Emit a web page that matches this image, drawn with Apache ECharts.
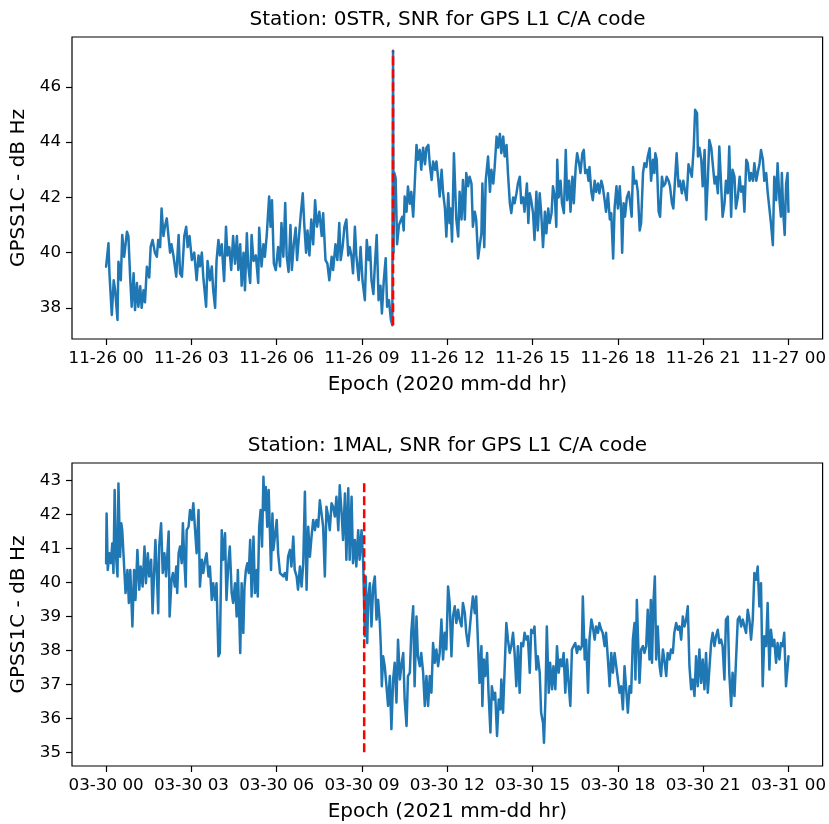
<!DOCTYPE html>
<html><head><meta charset="utf-8">
<script src="https://cdn.jsdelivr.net/npm/echarts@6/dist/echarts.min.js"></script>
<style>html,body{margin:0;padding:0;background:#fff}#c{width:829px;height:824px}</style>
</head><body><div id="c"></div>
<script>
// ---------------- DATA ----------------
// time in minutes since 00:00 of the day, value in dB Hz
const topTitle = 'Station: 0STR, SNR for GPS L1 C/A code';
const bottomTitle = 'Station: 1MAL, SNR for GPS L1 C/A code';
const yAxisName = 'GPSS1C - dB Hz';
const topXName = 'Epoch (2020 mm-dd hr)';
const bottomXName = 'Epoch (2021 mm-dd hr)';
const hourTicks = [0, 180, 360, 540, 720, 900, 1080, 1260, 1440];
const topTickLabels = ['11-26 00','11-26 03','11-26 06','11-26 09','11-26 12','11-26 15','11-26 18','11-26 21','11-27 00'];
const bottomTickLabels = ['03-30 00','03-30 03','03-30 06','03-30 09','03-30 12','03-30 15','03-30 18','03-30 21','03-31 00'];
const topYTicks = [38, 40, 42, 44, 46];
const bottomYTicks = [35, 36, 37, 38, 39, 40, 41, 42, 43];
const topChange = [605.5, 37.37, 47.31];     // minute, low, high
const bottomChange = [544.6, 35.0, 43.0];

const topSnr = [
[0,39.49],[5,40.34],[7,39.26],[12,37.74],[16,39.0],[19,38.64],[24,37.56],[26,39.67],[31,39.0],[34,40.64],
[38,39.85],[44,40.76],[47,40.6],[51,39.0],[54,38.04],[58,39.25],[61,37.92],[65,38.9],[68,38.04],[72,38.78],
[75,38.0],[79,38.64],[82,38.2],[86,39.49],[91,39.1],[94,40.21],[98,40.46],[103,40.0],[107,39.85],[110,40.46],
[114,40.2],[117,41.6],[121,40.6],[124,40.94],[128,41.24],[131,40.7],[135,40.0],[138,40.3],[142,39.9],[148,39.13],
[153,40.64],[156,39.25],[160,39.13],[165,40.6],[169,40.94],[172,40.2],[176,40.6],[181,39.73],[186,40.0],[191,39.0],
[195,39.9],[198,39.5],[202,40.0],[205,39.13],[211,38.04],[214,39.7],[219,39.0],[223,39.5],[226,38.64],[230,38.0],
[233,39.7],[237,40.46],[240,39.9],[244,40.3],[249,38.97],[253,40.94],[256,39.9],[260,40.2],[264,39.37],[268,40.6],
[272,39.6],[276,40.6],[279,39.37],[283,40.3],[286,38.8],[290,40.0],[293,38.64],[297,40.7],[300,39.5],[304,38.9],
[307,40.64],[311,39.7],[316,39.9],[321,38.9],[323,40.9],[328,39.5],[332,40.3],[335,39.85],[339,40.64],[344,42.03],
[347,40.94],[350,41.9],[354,39.6],[358,39.37],[363,40.2],[367,39.5],
[370,41.07],[374,39.85],[378,41.8],[381,39.9],[385,39.3],[389,41.0],[392,39.37],[396,40.3],[400,40.9],[403,39.73],
[407,40.6],[411,41.43],[415,42.15],[418,41.07],[422,40.0],[425,40.8],[429,39.9],[433,41.2],[437,40.3],[441,41.9],
[445,40.94],[450,41.48],[455,40.6],[458,41.43],[463,39.73],[467,39.6],[471,39.0],[476,39.85],[479,39.37],[484,40.3],
[488,39.73],[492,41.07],[495,39.73],[499,40.2],[503,40.94],[507,41.2],[511,39.9],[514,40.2],[518,39.85],[521,39.25],
[525,40.94],[528,39.9],[533,39.0],[537,40.2],[541,39.0],[546,38.28],[550,40.46],[554,39.73],[557,40.2],[560,39.0],
[564,38.5],[567,39.5],[571,40.64],[575,38.28],[579,38.8],[582,37.8],[586,39.0],[590,39.8],[593,38.04],[597,38.28],
[601,37.56],[604,37.37],[605.5,47.31],[606.5,40.0],[608,42.9],[611,42.7],[614,40.3],[618,41.0],
[625,41.3],[628,40.8],[630,42.03],[634,41.48],[637,42.39],[641,41.77],[644,42.2],[648,41.3],[651,42.39],[655,43.9],
[658,43.36],[662,43.72],[665,43.0],[669,43.8],[673,43.2],[676,43.8],[680,43.9],[683,43.2],[687,42.63],[690,43.3],
[694,43.0],[697,43.3],[701,42.63],[704,42.03],[708,43.0],[711,42.2],[715,41.6],[718,40.58],[722,42.15],[725,41.07],
[727,41.6],[730,40.4],[734,43.6],[736,42.63],[739,41.2],[743,40.58],[746,42.2],[750,41.2],[753,42.63],[757,41.2],
[760,42.88],[764,42.4],[767,42.75],[771,42.5],[774,40.94],[778,41.48],[781,41.2],[785,39.79],[788,40.2],[792,40.7],
[794,42.5],[798,40.2],[801,42.6],[806,43.48],[810,42.2],[813,43.0],[817,42.5],[820,43.1],[824,44.2],[827,43.8],
[831,44.3],[834,43.6],[838,44.2],[841,43.48],[845,43.9],[848,42.88],[852,41.79],[855,41.43],[859,42.0],[862,41.79],
[866,42.15],[869,42.5],[873,42.75],[876,41.79],[880,42.0],[883,41.48],[888,42.5],[891,41.07],[894,42.15],[897,41.9],
[901,41.43],[904,40.46],[908,42.2],[911,40.8],[915,42.15],[918,41.48],[922,40.2],[926,41.48],[929,40.7],[933,41.6],
[936,41.07],[940,41.43],[943,42.4],[947,42.0],[950,40.94],[952,43.36],[955,42.0],[959,42.6],[962,41.79],[966,41.43],
[970,43.72],[973,41.9],[977,42.6],[980,41.48],[984,42.75],[987,41.79],[991,43.1],[994,43.6],[998,43.24],[1001,42.88],
[1005,43.6],[1008,43.72],[1011,42.88],[1015,43.0],[1018,42.6],[1020,43.1],[1024,42.2],[1027,41.9],[1031,42.6],[1034,42.2],
[1038,42.5],[1041,42.15],[1045,42.6],[1048,42.4],[1052,41.9],[1055,41.48],[1059,42.15],[1063,41.2],[1066,41.43],[1070,39.79],
[1073,41.6],[1077,42.4],[1080,41.6],
[1084,42.4],[1087,41.43],[1089,40.0],[1092,41.79],[1095,41.3],[1099,42.0],[1103,42.2],[1106,41.79],[1109,41.3],[1112,43.1],
[1115,42.5],[1119,42.6],[1122,42.2],[1126,40.8],[1129,41.07],[1133,42.88],[1136,43.24],[1140,43.1],[1143,43.48],[1147,43.78],
[1150,42.6],[1154,43.36],[1157,42.88],[1159,43.6],[1162,43.36],[1166,41.48],[1169,41.3],[1173,42.75],[1176,42.4],[1180,42.5],
[1183,42.75],[1187,42.6],[1190,42.4],[1194,41.79],[1197,41.6],[1201,42.75],[1204,43.6],[1208,42.4],[1211,42.6],[1215,42.15],
[1218,42.6],[1222,42.2],[1225,41.9],[1229,43.2],[1233,43.24],[1236,42.75],[1240,43.8],[1243,45.17],[1247,45.05],[1249,43.48],
[1252,43.8],[1256,43.36],[1259,42.4],[1263,43.72],[1266,41.2],[1270,42.75],[1273,44.08],[1277,43.8],[1280,43.24],[1284,42.5],
[1287,42.75],[1291,42.15],[1294,43.84],[1298,43.84],[1301,41.3],[1305,41.79],[1308,42.6],[1312,42.15],[1315,43.84],[1319,41.3],
[1322,43.0],[1326,42.75],[1329,41.6],[1333,42.0],[1337,42.75],[1340,42.2],[1344,42.4],[1347,41.48],[1351,43.36],[1354,43.24],
[1358,42.6],[1361,42.88],[1365,42.6],[1368,43.24],[1372,42.6],[1375,42.88],[1379,43.24],[1382,43.72],[1386,43.36],[1389,42.6],
[1393,42.88],[1396,42.2],[1400,42.15],[1403,41.07],[1407,40.27],[1410,42.75],[1414,41.9],[1417,43.24],[1421,41.9],[1424,41.3],
[1426,42.88],[1429,41.43],[1432,40.64],[1435,42.5],[1438,42.88],[1440,41.48]
];

const bottomSnr = [
[0,40.56],[1,42.02],[3.5,40.36],[7,40.85],[10,40.56],[13,41.14],[15.5,40.27],[18,42.71],[21,40.75],[24,40.17],
[26,42.9],[29.5,40.75],[32,41.73],[34,41.53],[38,40.46],[41,39.68],[45,40.36],[48,39.39],[51,40.36],[55.5,38.7],
[59,40.36],[62,39.48],[66,40.95],[70,39.78],[73,40.46],[77,39.87],[81,41.05],[84,39.97],[88,40.85],[91,40.17],
[95,40.66],[98,39.09],[101,40.17],[104,41.24],[107,40.27],[110,39.09],[112,41.05],[116,41.73],[119.5,40.27],[123,40.85],
[126.5,40.17],[129,40.75],[132,41.49],[134,38.99],[138,40.07],[141,40.27],[145,39.87],[148,40.46],[150,39.68],[153,40.85],
[156,41.05],[159.5,40.56],[162,41.73],[165,40.66],[168,39.87],[170,41.53],[174,41.63],[177,42.12],[181,41.83],[184,42.32],
[188,42.32],[191,40.85],[195,42.12],[198,39.87],[202,40.66],[205,40.27],[209,40.66],[212,40.85],[216,40.17],[219,40.46],
[223,39.48],[226,39.97],[230,39.48],[233,39.97],[237,37.82],[240,37.92],[244,41.53],[247,40.66],[251,41.44],[254,39.48],
[258,40.56],[261,41.05],[265,39.68],[268,39.39],[272,39.97],[275.5,38.99],[278,40.36],[281,38.99],[283,37.92],[286,39.97],
[289.5,38.51],[292,39.87],[295,40.36],[298,40.56],[301,40.27],[304,41.24],[307,39.58],[311,41.34],[314,39.68],[318,40.36],
[320,39.58],[323,41.63],[326,42.12],[329,41.05],[332,43.1],[334.5,42.12],[337,42.8],[340,41.63],[343,42.71],[346,41.34],
[348,40.36],[351,42.02],[353,40.95],[357,41.44],[360,41.83],[363,40.85],[367,40.27],
[370,40.27],[374,40.17],[377,40.27],[381,40.07],[384,40.75],[388,40.95],[391,40.46],[395,41.34],[398,40.36],[402,40.17],
[405,39.78],[409,40.46],[412.5,39.87],[416,40.56],[419.5,42.66],[423,39.78],[426.5,41.63],[430,40.75],[433.5,41.34],[437,41.83],
[440.6,41.53],[444,41.83],[447.6,41.63],[451,42.41],[454.6,42.02],[458,41.63],[461.6,40.17],[465,42.22],[468.7,41.93],[472,41.53],
[475.7,42.32],[479,42.22],[482.7,41.93],[486,42.51],[490,41.53],[493,42.85],[497,42.02],[500,41.24],[504,42.61],[507,40.66],
[511,42.76],[514,40.66],[518,42.51],[521,40.56],[525,41.24],[528,40.46],[532,41.53],[535,40.66],[539,41.53],[542.5,40.56],
[546,38.41],[548,40.17],[551,38.21],[553,39.48],[556.5,39.97],[560,38.7],[563.5,39.87],[567,40.17],[570.6,38.9],[574,39.48],
[577.6,38.8],[579.7,38.12],[581.8,36.94],[584.6,37.82],[588,37.53],[591.6,36.94],[595,36.36],[598.7,37.24],[602,35.68],[605.7,37.14],
[609,37.63],[612.7,36.46],[616,38.31],[620,37.14],[623,37.53],[627,37.92],[630,36.55],[634,35.77],[637,37.24],[641,37.34],
[644,38.51],[648,39.29],[651,36.94],[655,38.99],[658,37.82],[662,37.53],[665,37.92],[669,37.34],[672.5,36.36],[676,37.24],
[679.5,36.36],[683,37.24],[686.5,36.75],[690,38.21],[693.5,37.63],[697,38.02],[700.6,37.53],[704,37.92],[707.6,38.9],[711,37.73],
[714.6,38.51],[718,38.02],[721.6,39.87],[725,39.39],
[728.7,37.82],[732,38.99],[735.7,39.29],[739,38.8],[742.7,39.19],[746,38.9],[750,38.7],[753,39.39],[757,39.09],[760,38.51],
[764,38.12],[767,38.12],[771,39.19],[774,39.58],[778,39.09],[781,39.58],[785,38.12],[788,37.04],[792,38.12],[794,36.36],
[797,37.73],[800,37.24],[804,37.92],[807,36.75],[811,35.58],[814,36.94],[818,36.55],[821,36.75],[825,35.48],[828.5,36.55],
[832,36.26],[834,37.14],[837.6,36.16],[841,36.16],[844.6,38.8],[848,38.31],[851.7,37.92],[855,38.12],[858.7,38.51],[862,37.92],
[865.7,36.94],[869,38.12],[872.7,36.75],[876,38.21],[880,38.12],[883,38.51],[887,38.31],[890,38.41],[894,37.34],[897,38.6],
[901,38.51],[904,38.7],[908,37.43],[911,37.82],[915,37.34],[918,36.16],[922,35.87],[924,35.28],[927,36.55],[930,38.7],
[934,36.75],[937,37.63],[941,36.85],[944,37.53],[948,36.85],[951.5,38.12],[955,37.34],[958.5,37.73],[962,37.53],[965.5,37.92],
[969,36.75],[972.5,37.73],[976,37.04],[979.6,36.36],[983,38.02],[986.6,38.12],[990,38.21],[993.6,37.92],[997,38.12],[1000.6,38.02],
[1004,38.12],[1006,39.58],[1010,37.73],[1013,38.31],[1017,36.75],[1020,38.31],[1024,38.9],[1027,38.7],[1031,38.31],[1034,38.7],
[1038,38.51],[1041,38.8],[1045,38.6],[1048,38.51],[1052,38.12],[1055,38.51],[1059,37.73],[1062.5,36.94],[1066,37.92],[1069.5,37.34],
[1073,37.92],[1076.5,37.53],[1080,37.14],[1083.6,36.75],
[1087,36.94],[1090.5,36.26],[1094,37.53],[1097.5,36.85],[1101,36.16],[1104.6,36.94],[1108,36.75],[1111.6,38.31],[1115,38.8],[1117,37.14],
[1120,39.48],[1123,38.12],[1125.6,37.04],[1129,38.02],[1132.7,38.12],[1136,37.92],[1139.7,38.12],[1143,39.19],[1146.7,37.73],[1149.5,39.48],
[1152,37.63],[1155,39.39],[1158,40.17],[1160.8,37.73],[1164,38.7],[1168,37.53],[1171,37.24],[1175,38.02],[1178,37.73],[1182,37.24],
[1185,37.92],[1189,37.73],[1192,38.02],[1196,37.92],[1199,38.51],[1203,38.8],[1206.5,38.6],[1210,38.7],[1213.5,38.31],[1217,38.99],
[1220.5,38.7],[1224,38.9],[1227.5,39.29],[1231,37.53],[1234.6,36.85],[1238,37.14],[1241.6,36.65],[1245,37.82],[1248.6,36.94],[1252,38.02],
[1255.6,37.04],[1259,37.73],[1262.7,36.85],[1266,37.92],[1269.7,36.75],[1273,36.75],[1276.7,38.21],[1280,38.51],[1283.8,38.12],[1287,38.41],
[1290.8,38.6],[1294,38.21],[1297.8,38.31],[1301,38.12],[1304.8,37.14],[1308,38.9],[1312,38.99],[1315,37.34],[1319,36.36],[1322,37.34],
[1326,36.65],[1329,36.65],[1333,38.9],[1336.5,38.99],[1340,38.7],[1343.5,38.9],[1347,38.7],[1350.5,38.51],[1354,39.19],[1357.5,38.9],
[1361,38.31],[1364.6,38.9],[1368,40.27],[1371.6,40.07],[1375,40.46],[1378.6,39.29],[1382,39.97],[1385.6,36.94],[1389,38.41],[1392.7,38.12],
[1396,39.39],[1399.7,37.43],[1403,38.6],[1406.7,38.12],[1410,38.31],[1413.8,37.63],[1417,38.21],[1420.8,37.73],[1424,38.21],[1427.8,38.12],
[1431,38.51],[1434.8,36.94],[1440,37.82]
];

// ---------------- RENDER ----------------
const FONT = '"DejaVu Sans", sans-serif';
function padded(lo, hi) { const r = hi - lo; return [lo - 0.05 * r, hi + 0.05 * r]; }
function extentOf(series, change) {
  const xs = series.map(p => p[0]), ys = series.map(p => p[1]).concat([change[1], change[2]]);
  return { x: padded(Math.min(...xs), Math.max(...xs)), y: padded(Math.min(...ys), Math.max(...ys)) };
}
const topExt = extentOf(topSnr, topChange);
const botExt = extentOf(bottomSnr, bottomChange);

function xAxisCfg(gridIndex, ext, labels, name) {
  return {
    type: 'value', gridIndex, min: ext.x[0], max: ext.x[1], position: 'bottom',
    name, nameLocation: 'middle', nameGap: 36,
    nameTextStyle: { fontFamily: FONT, fontSize: 20, color: '#000' },
    axisLine: { show: false, onZero: false },
    axisTick: { show: true, length: 6, customValues: hourTicks, lineStyle: { color: '#000', width: 1.2 } },
    axisLabel: { customValues: hourTicks, margin: 11, fontFamily: FONT, fontSize: 16.7, color: '#000',
      formatter: v => labels[hourTicks.indexOf(v)] },
    splitLine: { show: false }
  };
}
function yAxisCfg(gridIndex, ext, ticks) {
  return {
    type: 'value', gridIndex, min: ext.y[0], max: ext.y[1], position: 'left',
    name: yAxisName, nameLocation: 'middle', nameRotate: 90, nameGap: 37,
    nameTextStyle: { fontFamily: FONT, fontSize: 20, color: '#000' },
    axisLine: { show: false, onZero: false },
    axisTick: { show: true, length: 6, customValues: ticks, lineStyle: { color: '#000', width: 1.2 } },
    axisLabel: { customValues: ticks, margin: 11, fontFamily: FONT, fontSize: 16.7, color: '#000',
      formatter: v => String(v) },
    splitLine: { show: false }
  };
}
function dataSeries(i, data) {
  return { type: 'line', xAxisIndex: i, yAxisIndex: i, data, showSymbol: false, symbol: 'none',
    lineStyle: { color: '#1f77b4', width: 2.5, join: 'round', cap: 'round' }, z: 2, silent: true };
}
function changeSeries(i, c) {
  return { type: 'line', xAxisIndex: i, yAxisIndex: i, data: [[c[0], c[1]], [c[0], c[2]]],
    showSymbol: false, symbol: 'none',
    lineStyle: { color: '#ff0000', width: 2.5, type: [9, 4], cap: 'butt' }, z: 3, silent: true };
}
function titleText(text, cx, cy) {
  return { type: 'text', x: cx, y: cy, silent: true,
    style: { text, fill: '#000', font: '20px ' + FONT, align: 'center', verticalAlign: 'middle',
      textAlign: 'center', textVerticalAlign: 'middle' } };
}

const chart = echarts.init(document.getElementById('c'), null, { renderer: 'canvas', width: 829, height: 824 });
chart.setOption({
  animation: false,
  backgroundColor: '#ffffff',
  grid: [
    { left: 72, top: 37, width: 751, height: 302, show: true, borderColor: '#000', borderWidth: 1.2, backgroundColor: 'transparent' },
    { left: 72, top: 463, width: 751, height: 303, show: true, borderColor: '#000', borderWidth: 1.2, backgroundColor: 'transparent' }
  ],
  xAxis: [xAxisCfg(0, topExt, topTickLabels, topXName), xAxisCfg(1, botExt, bottomTickLabels, bottomXName)],
  yAxis: [yAxisCfg(0, topExt, topYTicks), yAxisCfg(1, botExt, bottomYTicks)],
  series: [dataSeries(0, topSnr), changeSeries(0, topChange), dataSeries(1, bottomSnr), changeSeries(1, bottomChange)],
  graphic: [titleText(topTitle, 447.5, 20), titleText(bottomTitle, 447.5, 446)]
});
</script></body></html>
